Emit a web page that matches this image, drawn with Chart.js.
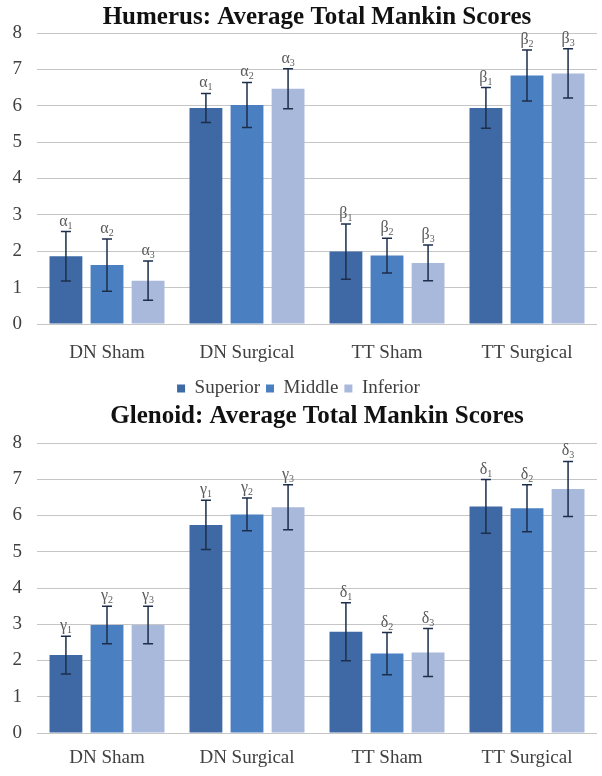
<!DOCTYPE html>
<html>
<head>
<meta charset="utf-8">
<script src="https://cdn.jsdelivr.net/npm/chart.js@4.4.1/dist/chart.umd.min.js"></script>
<style>
    body { margin: 0; background: #fff; }
    .wrap { position: relative; width: 602px; height: 776px; }
    #humerusChart { position: absolute; left: 0; top: 0; }
    #glenoidChart { position: absolute; left: 0; top: 392px; }
</style>
</head>
<body>
<div class="wrap">
    <canvas id="humerusChart" width="602" height="408"></canvas>
    <canvas id="glenoidChart" width="602" height="384"></canvas>
</div>
<script>
// カテゴリ
const categories = ['DN Sham', 'DN Surgical', 'TT Sham', 'TT Surgical'];
const seriesNames = ['Superior', 'Middle', 'Inferior'];
const yTicks = [0, 1, 2, 3, 4, 5, 6, 7, 8];

// 上腕骨 (Humerus)
const humerusSuperior = [1.86, 5.94, 1.99, 5.94];
const humerusMiddle = [1.62, 6.02, 1.88, 6.83];
const humerusInferior = [1.19, 6.47, 1.68, 6.89];
const humerusSuperiorErr = [0.68, 0.40, 0.76, 0.56];
const humerusMiddleErr = [0.72, 0.62, 0.48, 0.70];
const humerusInferiorErr = [0.54, 0.55, 0.49, 0.68];
const humerusMarks = ['α', 'α', 'β', 'β'];

// 関節窩 (Glenoid)
const glenoidSuperior = [2.15, 5.74, 2.79, 6.25];
const glenoidMiddle = [2.98, 6.03, 2.19, 6.20];
const glenoidInferior = [2.98, 6.23, 2.22, 6.73];
const glenoidSuperiorErr = [0.52, 0.68, 0.80, 0.74];
const glenoidMiddleErr = [0.52, 0.45, 0.58, 0.65];
const glenoidInferiorErr = [0.52, 0.62, 0.66, 0.76];
const glenoidMarks = ['γ', 'γ', 'δ', 'δ'];

const colors = ['#3e69a5', '#4a7fc1', '#a8b9db'];
const serif = "'Liberation Serif', 'Times New Roman', serif";

// エラーバーとギリシャ文字ラベル
const errorBarPlugin = {
    id: 'errorBars',
    afterDatasetsDraw(chart, args, opts) {
        const ctx = chart.ctx;
        const yScale = chart.scales.y;
        ctx.save();
        chart.data.datasets.forEach((ds, i) => {
            const meta = chart.getDatasetMeta(i);
            meta.data.forEach((bar, j) => {
                const v = ds.data[j];
                const e = ds.errors[j];
                const x = bar.x;
                const yTop = yScale.getPixelForValue(v + e);
                const yBot = yScale.getPixelForValue(v - e);
                ctx.strokeStyle = '#1c2e4a';
                ctx.lineWidth = 1.5;
                ctx.beginPath();
                ctx.moveTo(x, yTop);
                ctx.lineTo(x, yBot);
                ctx.moveTo(x - 5, yTop);
                ctx.lineTo(x + 5, yTop);
                ctx.moveTo(x - 5, yBot);
                ctx.lineTo(x + 5, yBot);
                ctx.stroke();

                // ラベル
                const letter = opts.marks[j];
                const sub = String(i + 1);
                ctx.fillStyle = '#5a5a5a';
                ctx.textBaseline = 'alphabetic';
                ctx.font = '16px ' + serif;
                const w1 = ctx.measureText(letter).width;
                ctx.font = '10px ' + serif;
                const w2 = ctx.measureText(sub).width;
                const start = x - (w1 + w2) / 2;
                const base = yTop - 6;
                ctx.font = '16px ' + serif;
                ctx.textAlign = 'left';
                ctx.fillText(letter, start, base);
                ctx.font = '10px ' + serif;
                ctx.fillText(sub, start + w1, base + 3);
            });
        });
        ctx.restore();
    }
};

function makeDatasets(values, errors) {
    return seriesNames.map((name, i) => ({
        label: name,
        data: values[i],
        errors: errors[i],
        backgroundColor: colors[i],
        borderWidth: 0,
        categoryPercentage: 0.88,
        barPercentage: 0.8
    }));
}

function makeOptions(titleText, marks, showLegend, titlePad, xHeight, xPad) {
    return {
        responsive: false,
        animation: false,
        devicePixelRatio: 1,
        layout: { padding: { left: 0, right: 5, top: 0, bottom: 0 } },
        scales: {
            x: {
                grid: { display: false },
                border: { display: false },
                ticks: { font: { family: serif, size: 19 }, color: '#404040', padding: xPad },
                afterFit: function(scale) { scale.height = xHeight; }
            },
            y: {
                min: 0,
                max: 8,
                afterBuildTicks: function(scale) {
                    scale.ticks = yTicks.map(v => ({ value: v }));
                },
                grid: { color: '#c6c6c6', lineWidth: 1, drawTicks: false },
                border: { display: false },
                ticks: { font: { family: serif, size: 19 }, color: '#404040', padding: 15 },
                afterFit: function(scale) { scale.width = 37; }
            }
        },
        plugins: {
            title: {
                display: true,
                text: titleText,
                fullSize: false,
                color: '#111',
                font: { family: serif, size: 25, weight: 'bold' },
                padding: titlePad
            },
            legend: {
                display: showLegend,
                position: 'bottom',
                labels: {
                    font: { family: serif, size: 19 },
                    color: '#404040',
                    boxWidth: 8,
                    boxHeight: 8,
                    padding: 6
                }
            },
            tooltip: { enabled: false },
            errorBars: { marks: marks }
        }
    };
}

document.addEventListener('DOMContentLoaded', function() {
    // Humerus チャート
    new Chart(document.getElementById('humerusChart').getContext('2d'), {
        type: 'bar',
        data: {
            labels: categories,
            datasets: makeDatasets(
                [humerusSuperior, humerusMiddle, humerusInferior],
                [humerusSuperiorErr, humerusMiddleErr, humerusInferiorErr]
            )
        },
        options: makeOptions('Humerus: Average Total Mankin Scores', humerusMarks, true, { top: 3, bottom: 0 }, 49, 10),
        plugins: [errorBarPlugin]
    });

    // Glenoid チャート
    new Chart(document.getElementById('glenoidChart').getContext('2d'), {
        type: 'bar',
        data: {
            labels: categories,
            datasets: makeDatasets(
                [glenoidSuperior, glenoidMiddle, glenoidInferior],
                [glenoidSuperiorErr, glenoidMiddleErr, glenoidInferiorErr]
            )
        },
        options: makeOptions('Glenoid: Average Total Mankin Scores', glenoidMarks, false, { top: 10, bottom: 11 }, 43, 6),
        plugins: [errorBarPlugin]
    });
});
</script>
</body>
</html>
